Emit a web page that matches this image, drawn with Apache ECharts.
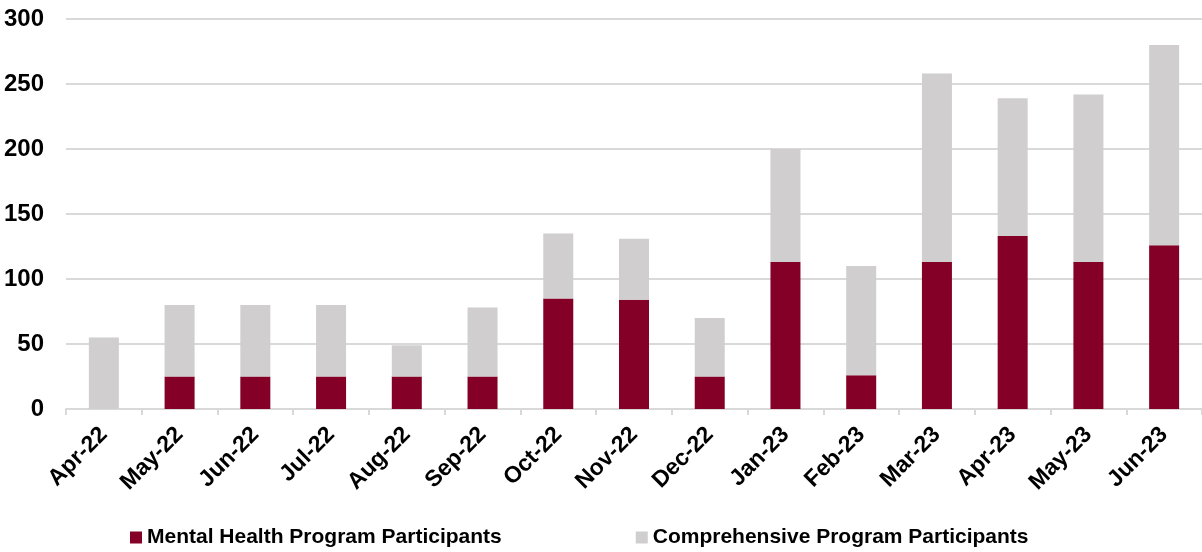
<!DOCTYPE html>
<html>
<head>
<meta charset="utf-8">
<script src="https://cdn.jsdelivr.net/npm/echarts@6/dist/echarts.min.js"></script>
<style>
html,body{margin:0;padding:0;background:#fff;}
#chart{width:1202px;height:552px;}
</style>
</head>
<body>
<div id="chart"></div>
<script>
const categories = ['Apr-22','May-22','Jun-22','Jul-22','Aug-22','Sep-22','Oct-22','Nov-22','Dec-22','Jan-23','Feb-23','Mar-23','Apr-23','May-23','Jun-23'];
const mentalHealth = [0, 25, 25, 25, 25, 25, 85, 84, 25, 113, 26, 113, 133, 113, 126];
const comprehensive = [55, 55, 55, 55, 24, 53, 50, 47, 45, 87, 84, 145, 106, 129, 154];
const yTicks = {min: 0, max: 300, interval: 50};

const FONT = '"Liberation Sans", Arial, sans-serif';
const chart = echarts.init(document.getElementById('chart'));
chart.setOption({
  animation: false,
  backgroundColor: '#ffffff',
  grid: {left: 66, right: 0, top: 19, bottom: 143, containLabel: false},
  legend: {
    data: ['Mental Health Program Participants', 'Comprehensive Program Participants'],
    left: 130, top: 527, padding: 0,
    icon: 'rect', itemWidth: 12, itemHeight: 12, itemGap: 134,
    textStyle: {fontFamily: FONT, fontSize: 21, fontWeight: 'bold', color: '#000'}
  },
  xAxis: {
    type: 'category',
    data: categories,
    axisLine: {lineStyle: {color: '#d9d9d9', width: 2}},
    axisTick: {show: true, length: 6, lineStyle: {color: '#d9d9d9', width: 2}},
    axisLabel: {rotate: 45, margin: 22, fontFamily: FONT, fontSize: 23, fontWeight: 'bold', color: '#000', interval: 0}
  },
  yAxis: {
    type: 'value',
    min: yTicks.min, max: yTicks.max, interval: yTicks.interval,
    axisLine: {show: false},
    axisTick: {show: false},
    splitLine: {lineStyle: {color: '#d9d9d9', width: 2}},
    axisLabel: {margin: 22, fontFamily: FONT, fontSize: 24, fontWeight: 'bold', color: '#000'}
  },
  series: [
    {name: 'Mental Health Program Participants', type: 'bar', stack: 'total', data: mentalHealth, barWidth: 30,
     itemStyle: {color: '#840026'}},
    {name: 'Comprehensive Program Participants', type: 'bar', stack: 'total', data: comprehensive, barWidth: 30,
     itemStyle: {color: '#d0cecf'}}
  ]
});
</script>
</body>
</html>
